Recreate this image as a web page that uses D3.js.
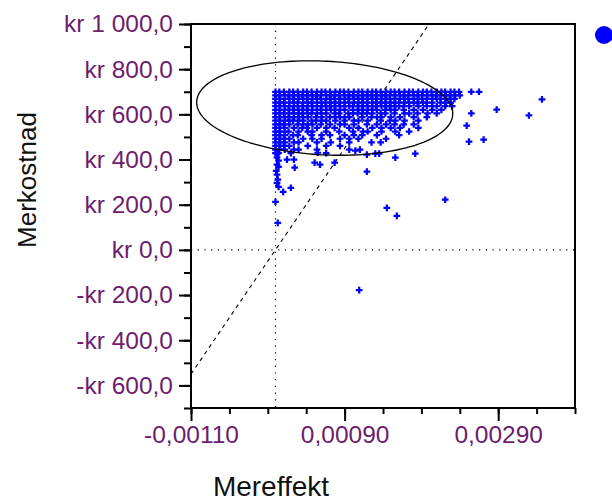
<!DOCTYPE html>
<html>
<head>
<meta charset="utf-8">
<script src="https://cdn.jsdelivr.net/npm/d3@7"></script>
<style>
  body { margin: 0; background: #fff; }
  svg { display: block; font-family: "Liberation Sans", Arial, sans-serif; }
</style>
</head>
<body>
<svg id="chart" width="612" height="504"></svg>
<script>
//effects are written in units of 0.00001 QALY, costs in kr
var EFFECT_UNIT = 1e-5;

//dense block of simulations, one row per cost level: [cost, effects]
var denseRows = [
  [700, [0,5,11,18,23,29,36,41,47,54,60,65,71,78,84,89,95,102,108,113,120,126,131,137,144,150,155,161,168,174,179,186,192,197,203,210,216,221,228,233,239]],
  [684, [0,6,12,17,24,30,35,42,48,53,59,66,72,77,83,90,96,101,107,114,119,125,132,138,143,149,156,162,167,173,180,185,191,198,204,209,215,222,227,234,240]],
  [668, [0,5,12,18,23,30,36,41,48,54,59,66,71,77,84,90,95,102,108,113,120,126,131,138,144,149,155,162,168,173,180,186,191,197,204,210,215,221,228,233]],
  [652, [0,6,11,18,24,29,36,42,47,54,60,65,72,78,83,90,96,102,108,114,119,126,132,137,143,150,156,161,168,174,180,185,192,197,204,215,222,228]],
  [636, [0,5,12,18,24,29,35,42,48,54,60,66,71,77,84,90,96,101,107,113,120,126,131,138,144,149,155,161,167,174,186,197,204,210,221,230]],
  [620, [0,6,12,17,23,30,36,41,48,54,59,66,72,78,84,90,101,108,114,120,126,132,143,150,156,167,180,192,204,216]],
  [604, [0,5,11,18,24,30,35,42,47,54,60,66,77,83,95,101,107,113,119,126,137,143,155,168,174,185,198,210]],
  [588, [0,6,12,17,24,30,36,42,53,60,71,78,84,90,96,113,125,132,138,150,162,180,197]],
  [572, [0,5,12,18,23,30,36,47,53,60,66,78,90,102,108,120,137,149,156,168,186]],
  [556, [0,6,11,18,29,36,42,48,59,71,84,90,102,119,132,144,155,167,180]],
  [540, [0,5,12,24,35,41,54,66,77,96,108,126,138,150,162,186]],
  [524, [0,6,12,17,30,42,48,66,83,101,114,120,138,156,174]],
  [508, [0,5,12,23,29,47,60,71,90,102,113,132,161]],
  [492, [0,6,11,18,36,48,60,84,96,108,144]],
  [476, [0,5,12,24,30,54,72,96,125,137]],
  [460, [0,6,11,18,42,66,84]],
  [444, [0,5,12,24,30,54,96,110]],
  [428, [0,4,20,66]]
];

//scattered simulations: [effect, cost]
var outliers = [
  [255,700],[265,700],[347,666],[330,595],[288,621],[255,604],[249,550],[252,479],[271,488],
  [221,222],[145,186],[158,151],[109,-178],[119,346],[156,408],[182,426],[119,422],[130,426],[135,426],
  [2,426],[2,377],[4,368],[2,333],[3,311],[2,297],[4,279],[10,257],[20,275],[0,213],[3,120],
  [24,400],[25,364],[15,400],[51,386],[58,377],[77,386],[55,430],[104,439],[2,410],[4,395],[1,350]
];

//confidence ellipse: centre and semi axes [effect, cost]
var ellipseCentre = [0.000641, 628];
var ellipseMajor = [0.001667, -22];
var ellipseMinor = [-0.0000238, 208];

var wtp = 500000; //kr per QALY

var xDomain = [-0.0011, 0.0039];
var yDomain = [-700, 1000];
var xMajor = [-0.0011, 0.0009, 0.0029];
var xMinor = [-0.0011, -0.0006, -0.0001, 0.0004, 0.0009, 0.0014, 0.0019, 0.0024, 0.0029, 0.0034, 0.0039];
var yMajor = [-600, -400, -200, 0, 200, 400, 600, 800, 1000];
var yMinor = [-700, -600, -500, -400, -300, -200, -100, 0, 100, 200, 300, 400, 500, 600, 700, 800, 900, 1000];

var plotLeft = 191, plotRight = 575, plotTop = 24, plotBottom = 408;
var labelColor = '#6e1c6e';

var svg = d3.select('#chart');
var x = d3.scaleLinear().domain(xDomain).range([plotLeft, plotRight]);
var y = d3.scaleLinear().domain(yDomain).range([plotBottom, plotTop]);

var no = d3.formatLocale({decimal: ',', thousands: '\u00a0', grouping: [3], currency: ['kr\u00a0', ''], minus: '-'});
var fmtCost = no.format('$,.1f');
var fmtEffect = no.format('.5f');

svg.append('clipPath').attr('id', 'plot')
  .append('rect').attr('x', plotLeft).attr('y', plotTop)
  .attr('width', plotRight - plotLeft).attr('height', plotBottom - plotTop);

var plot = svg.append('g').attr('clip-path', 'url(#plot)');

//reference lines through origin
plot.append('line')
  .attr('x1', x(0)).attr('x2', x(0)).attr('y1', plotTop).attr('y2', plotBottom)
  .attr('stroke', '#000').attr('stroke-width', 1.2).attr('stroke-dasharray', '1.2,5.5');
plot.append('line')
  .attr('x1', plotLeft).attr('x2', plotRight).attr('y1', y(0)).attr('y2', y(0))
  .attr('stroke', '#000').attr('stroke-width', 1.2).attr('stroke-dasharray', '1.2,5.5');

//willingness to pay line
plot.append('line')
  .attr('x1', x(xDomain[0])).attr('y1', y(xDomain[0] * wtp))
  .attr('x2', x(xDomain[1])).attr('y2', y(xDomain[1] * wtp))
  .attr('stroke', '#000').attr('stroke-width', 1.1).attr('stroke-dasharray', '4,4');

//points
var pts = [];
denseRows.forEach(function(r){
  r[1].forEach(function(u){ pts.push([u * EFFECT_UNIT, r[0]]); });
});
outliers.forEach(function(p){ pts.push([p[0] * EFFECT_UNIT, p[1]]); });

var cross = d3.symbol().type(d3.symbolCross).size(25);
plot.append('g').selectAll('path')
  .data(pts)
  .join('path')
  .attr('transform', function(d){ return 'translate(' + x(d[0]) + ',' + y(d[1]) + ')'; })
  .attr('d', cross)
  .attr('fill', '#0000ff');

//ellipse
var angles = d3.range(0, 2 * Math.PI + 0.01, Math.PI / 90);
var ellipse = d3.line()
  .x(function(t){ return x(ellipseCentre[0] + Math.cos(t) * ellipseMajor[0] + Math.sin(t) * ellipseMinor[0]); })
  .y(function(t){ return y(ellipseCentre[1] + Math.cos(t) * ellipseMajor[1] + Math.sin(t) * ellipseMinor[1]); });
plot.append('path').datum(angles)
  .attr('d', ellipse)
  .attr('fill', 'none').attr('stroke', '#000').attr('stroke-width', 1.3);

//frame
svg.append('rect')
  .attr('x', plotLeft).attr('y', plotTop)
  .attr('width', plotRight - plotLeft).attr('height', plotBottom - plotTop)
  .attr('fill', 'none').attr('stroke', '#000').attr('stroke-width', 2);

//axes
var yMinorAxis = svg.append('g').attr('transform', 'translate(' + plotLeft + ',0)')
  .call(d3.axisLeft(y).tickValues(yMinor).tickSize(7).tickFormat(''));
var yAxis = svg.append('g').attr('transform', 'translate(' + plotLeft + ',0)')
  .call(d3.axisLeft(y).tickValues(yMajor).tickSize(12).tickPadding(6).tickFormat(fmtCost));
var xMinorAxis = svg.append('g').attr('transform', 'translate(0,' + plotBottom + ')')
  .call(d3.axisBottom(x).tickValues(xMinor).tickSize(6).tickFormat(''));
var xAxis = svg.append('g').attr('transform', 'translate(0,' + plotBottom + ')')
  .call(d3.axisBottom(x).tickValues(xMajor).tickSize(13).tickPadding(5).tickFormat(fmtEffect));

[yMinorAxis, yAxis, xMinorAxis, xAxis].forEach(function(a){
  a.select('.domain').remove();
  a.selectAll('line').attr('stroke', '#000').attr('stroke-width', 2);
});
yAxis.selectAll('text').attr('font-size', 24.5).attr('fill', labelColor);
xAxis.selectAll('text').attr('font-size', 24.5).attr('fill', labelColor);

//titles
svg.append('text')
  .attr('transform', 'translate(36,' + ((plotTop + plotBottom) / 2 - 36) + ') rotate(-90)')
  .attr('text-anchor', 'middle')
  .attr('font-size', 26)
  .attr('fill', '#111')
  .text('Merkostnad');
svg.append('text')
  .attr('x', 271).attr('y', 496)
  .attr('text-anchor', 'middle')
  .attr('font-size', 28)
  .attr('fill', '#111')
  .text('Mereffekt');

//legend marker (label is outside the picture)
svg.append('circle').attr('cx', 604).attr('cy', 35).attr('r', 9).attr('fill', '#0000ff');
</script>
</body>
</html>
